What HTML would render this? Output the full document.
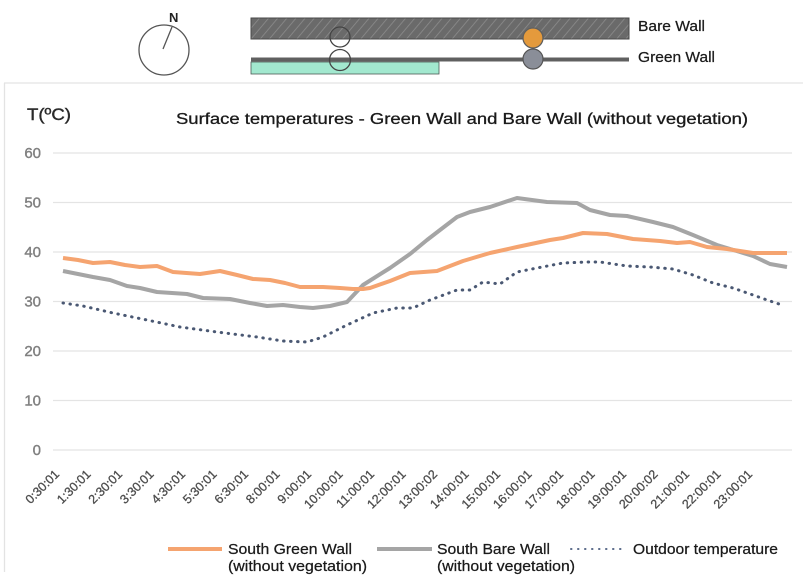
<!DOCTYPE html>
<html><head><meta charset="utf-8"><style>
html,body{margin:0;padding:0;background:#fff;}
svg{display:block;}
text{font-family:"Liberation Sans",Arial,sans-serif;}
</style></head><body>
<svg width="803" height="583" viewBox="0 0 803 583" xmlns="http://www.w3.org/2000/svg">
<defs>
<pattern id="hatch" width="7" height="7" patternUnits="userSpaceOnUse" patternTransform="rotate(40)">
<rect width="7" height="7" fill="#6a6a6a"/>
<line x1="0" y1="0" x2="0" y2="7" stroke="#8c8c8c" stroke-width="1.6"/>
</pattern>
</defs>
<rect width="803" height="583" fill="#fff"/>
<!-- compass -->
<circle cx="164" cy="50" r="25" fill="none" stroke="#555" stroke-width="1.3"/>
<line x1="163" y1="49" x2="172" y2="27" stroke="#555" stroke-width="1.3"/>
<text x="169" y="22" font-size="13" font-weight="bold" fill="#222">N</text>
<!-- bare wall -->
<rect x="251" y="18" width="378" height="21" fill="url(#hatch)" stroke="#4a4a4a" stroke-width="1"/>
<!-- green wall -->
<rect x="251" y="62" width="188" height="12" fill="#a2e8cf" stroke="#4d5a55" stroke-width="0.8"/>
<line x1="251" y1="59.5" x2="629" y2="59.5" stroke="#606060" stroke-width="4"/>
<circle cx="340" cy="37" r="10" fill="none" stroke="#444" stroke-width="1.3"/>
<circle cx="340" cy="60" r="10.5" fill="none" stroke="#444" stroke-width="1.3"/>
<circle cx="533" cy="38" r="10" fill="#e49a3c" stroke="#5f5f5f" stroke-width="1.3"/>
<circle cx="533" cy="59" r="10" fill="#8a8e98" stroke="#555" stroke-width="1.2"/>
<text x="638" y="31" font-size="15" fill="#1a1a1a" stroke="#1a1a1a" stroke-width="0.25" textLength="67" lengthAdjust="spacingAndGlyphs">Bare Wall</text>
<text x="638" y="62" font-size="15" fill="#1a1a1a" stroke="#1a1a1a" stroke-width="0.25" textLength="77" lengthAdjust="spacingAndGlyphs">Green Wall</text>
<!-- chart box -->
<line x1="4" y1="83" x2="803" y2="83" stroke="#e3e3e3" stroke-width="1.3"/>
<line x1="4.5" y1="83" x2="4.5" y2="572" stroke="#e3e3e3" stroke-width="1.3"/>
<text x="27" y="120" font-size="17" fill="#2a2a2a" stroke="#2a2a2a" stroke-width="0.4" textLength="44" lengthAdjust="spacingAndGlyphs">T(ºC)</text>
<text x="176" y="124" font-size="15.5" fill="#1a1a1a" stroke="#1a1a1a" stroke-width="0.3" textLength="572" lengthAdjust="spacingAndGlyphs">Surface temperatures - Green Wall and Bare Wall (without vegetation)</text>
<!-- grid -->
<g stroke="#e4e4e4" stroke-width="1.2">
<line x1="53" y1="153" x2="792" y2="153"/>
<line x1="53" y1="202.5" x2="792" y2="202.5"/>
<line x1="53" y1="252" x2="792" y2="252"/>
<line x1="53" y1="301.5" x2="792" y2="301.5"/>
<line x1="53" y1="351" x2="792" y2="351"/>
<line x1="53" y1="400.5" x2="792" y2="400.5"/>
<line x1="53" y1="450" x2="792" y2="450"/>
</g>
<g font-size="15" fill="#808080" stroke="#808080" stroke-width="0.4" text-anchor="end">
<text x="41" y="158">60</text>
<text x="41" y="207.5">50</text>
<text x="41" y="257">40</text>
<text x="41" y="306.5">30</text>
<text x="41" y="356">20</text>
<text x="41" y="405.5">10</text>
<text x="41" y="455">0</text>
</g>
<!-- x labels -->
<g font-size="12.5" fill="#4d4d4d" stroke="#4d4d4d" stroke-width="0.3" text-anchor="end">
<text transform="translate(60,475) rotate(-45)">0:30:01</text>
<text transform="translate(91.5,475) rotate(-45)">1:30:01</text>
<text transform="translate(123,475) rotate(-45)">2:30:01</text>
<text transform="translate(154.5,475) rotate(-45)">3:30:01</text>
<text transform="translate(186,475) rotate(-45)">4:30:01</text>
<text transform="translate(217.5,475) rotate(-45)">5:30:01</text>
<text transform="translate(249,475) rotate(-45)">6:30:01</text>
<text transform="translate(280.5,475) rotate(-45)">8:00:01</text>
<text transform="translate(312,475) rotate(-45)">9:00:01</text>
<text transform="translate(343.5,475) rotate(-45)">10:00:01</text>
<text transform="translate(375,475) rotate(-45)">11:00:01</text>
<text transform="translate(406.5,475) rotate(-45)">12:00:01</text>
<text transform="translate(438,475) rotate(-45)">13:00:02</text>
<text transform="translate(469.5,475) rotate(-45)">14:00:01</text>
<text transform="translate(501,475) rotate(-45)">15:00:01</text>
<text transform="translate(532.5,475) rotate(-45)">16:00:01</text>
<text transform="translate(564,475) rotate(-45)">17:00:01</text>
<text transform="translate(595.5,475) rotate(-45)">18:00:01</text>
<text transform="translate(627,475) rotate(-45)">19:00:01</text>
<text transform="translate(658.5,475) rotate(-45)">20:00:02</text>
<text transform="translate(690,475) rotate(-45)">21:00:01</text>
<text transform="translate(721.5,475) rotate(-45)">22:00:01</text>
<text transform="translate(753,475) rotate(-45)">23:00:01</text>
</g>
<!-- series -->
<polyline fill="none" stroke="#4a5873" stroke-width="3" stroke-linecap="round" stroke-dasharray="0.5 6.5"
points="63,303 83,306 113,313 147,320 180,327 217,332 257,337 283,341 307,342 323,337 347,325 373,313 397,308 413,308 430,300 457,290 470,290 483,282 500,284 517,272 537,268 563,263 587,262 600,262 627,266 650,267 673,269 693,275 713,283 733,288 753,295 767,300 782,305"/>
<polyline fill="none" stroke="#a5a5a5" stroke-width="4" stroke-linejoin="round"
points="63,271 93,277 110,280 127,286 140,288 157,292 187,294 203,298 230,299 250,303 267,306 283,305 300,307 313,308 330,306 347,302 363,285 390,268 410,254 427,240 440,230 457,217 470,212 490,207 517,198 547,202 577,203 590,210 610,215 627,216 653,222 673,227 693,235 717,245 740,252 753,256 770,264 787,267"/>
<polyline fill="none" stroke="#f5a470" stroke-width="4" stroke-linejoin="round"
points="63,258 78,260 93,263 110,262 125,265 140,267 157,266 173,272 200,274 220,271 237,275 253,279 270,280 285,283 300,287 323,287 340,288 353,289 363,289 370,288 390,281 410,273 437,271 463,261 490,253 517,247 550,240 563,238 583,233 607,234 633,239 660,241 677,243 690,242 707,247 727,249 753,253 787,253"/>
<!-- legend -->
<line x1="168" y1="549" x2="222" y2="549" stroke="#f5a470" stroke-width="4"/>
<g font-size="15" fill="#1a1a1a" stroke="#1a1a1a" stroke-width="0.25">
<text x="228" y="554" textLength="124" lengthAdjust="spacingAndGlyphs">South Green Wall</text>
<text x="228" y="571" textLength="139" lengthAdjust="spacingAndGlyphs">(without vegetation)</text>
<text x="437" y="554" textLength="113" lengthAdjust="spacingAndGlyphs">South Bare Wall</text>
<text x="437" y="571" textLength="138" lengthAdjust="spacingAndGlyphs">(without vegetation)</text>
<text x="633" y="554" textLength="145" lengthAdjust="spacingAndGlyphs">Outdoor temperature</text>
</g>
<line x1="377" y1="549" x2="432" y2="549" stroke="#a5a5a5" stroke-width="4"/>
<line x1="571" y1="549" x2="622" y2="549" stroke="#5a6a8a" stroke-width="2" stroke-linecap="round" stroke-dasharray="0.5 6.5"/>
</svg>
</body></html>
